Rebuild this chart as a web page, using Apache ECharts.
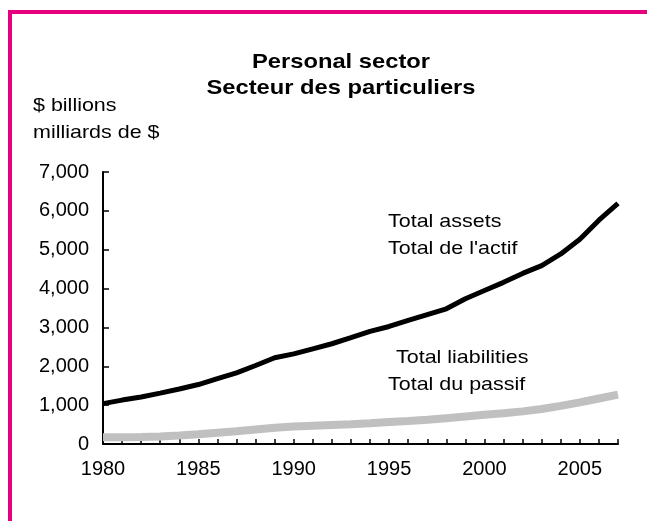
<!DOCTYPE html>
<html>
<head>
<meta charset="utf-8">
<script src="https://cdn.jsdelivr.net/npm/echarts@6/dist/echarts.min.js"></script>
<style>
  html, body { margin: 0; padding: 0; background: #fff; }
  #chart { width: 647px; height: 521px; }
</style>
</head>
<body>
<div id="chart"></div>
<script>
// years 1980..2007
var years = [1980, 1981, 1982, 1983, 1984, 1985, 1986, 1987, 1988, 1989,
             1990, 1991, 1992, 1993, 1994, 1995, 1996, 1997, 1998, 1999,
             2000, 2001, 2002, 2003, 2004, 2005, 2006, 2007];
// $ billions
var totalAssets = [1040, 1130, 1210, 1310, 1415, 1530, 1680, 1830, 2020, 2220,
                   2320, 2450, 2580, 2735, 2900, 3025, 3180, 3330, 3480, 3740,
                   3950, 4160, 4390, 4590, 4890, 5270, 5760, 6190];
var totalLiabilities = [172, 175, 180, 195, 220, 250, 290, 330, 375, 420,
                        450, 470, 490, 510, 535, 565, 590, 625, 665, 705,
                        750, 790, 840, 900, 980, 1070, 1170, 1270];
var yTicks = [0, 1000, 2000, 3000, 4000, 5000, 6000, 7000];

var font = 'Liberation Sans, Arial, sans-serif';
var magenta = '#E6007E';
var sx = 1.13; // reference text is a bit wide

function pairs(vals) {
  return years.map(function (y, i) { return [y, vals[i]]; });
}

function label(txt, x, y, size, bold, align) {
  return {
    type: 'text', x: x, y: y, scaleX: sx,
    style: {
      text: txt, fill: '#000',
      font: (bold ? 'bold ' : '') + size + 'px ' + font,
      textAlign: align || 'left', textVerticalAlign: 'middle'
    }
  };
}

var chart = echarts.init(document.getElementById('chart'));
chart.setOption({
  animation: false,
  backgroundColor: '#fff',
  grid: { left: 103, right: 29, top: 172, bottom: 77 },
  xAxis: {
    type: 'value',
    min: 1980, max: 2007, interval: 1,
    axisLine: { lineStyle: { color: '#000', width: 2 } },
    axisTick: { inside: true, length: 5, lineStyle: { color: '#000', width: 1.5 } },
    axisLabel: {
      margin: 15, color: '#000', fontFamily: font, fontSize: 20,
      formatter: function (v) { return v % 5 === 0 ? String(v) : ''; }
    },
    splitLine: { show: false }
  },
  yAxis: {
    type: 'value',
    min: yTicks[0], max: yTicks[yTicks.length - 1], interval: 1000,
    axisLine: { show: true, lineStyle: { color: '#000', width: 2 } },
    axisTick: { show: true, inside: true, length: 6, lineStyle: { color: '#000', width: 1.5 } },
    axisLabel: {
      margin: 14, color: '#000', fontFamily: font, fontSize: 20,
      formatter: function (v) { return v.toLocaleString('en-US'); }
    },
    splitLine: { show: false }
  },
  series: [
    {
      name: 'Total liabilities',
      type: 'line',
      data: pairs(totalLiabilities),
      showSymbol: false,
      lineStyle: { color: '#C0C0C0', width: 8 },
      z: 2
    },
    {
      name: 'Total assets',
      type: 'line',
      data: pairs(totalAssets),
      showSymbol: false,
      lineStyle: { color: '#000', width: 5 },
      z: 3
    }
  ],
  graphic: [
    { type: 'rect', shape: { x: 8, y: 10, width: 4, height: 511 }, style: { fill: magenta } },
    { type: 'rect', shape: { x: 8, y: 10, width: 639, height: 4 }, style: { fill: magenta } },
    label('Personal sector', 341, 62, 21, true, 'center'),
    label('Secteur des particuliers', 341, 88, 21, true, 'center'),
    label('$ billions', 33, 106, 19),
    label('milliards de $', 33, 133, 19),
    label('Total assets', 388, 222, 19),
    label("Total de l'actif", 388, 249, 19),
    label('Total liabilities', 396, 358, 19),
    label('Total du passif', 388, 385, 19)
  ]
});
</script>
</body>
</html>
